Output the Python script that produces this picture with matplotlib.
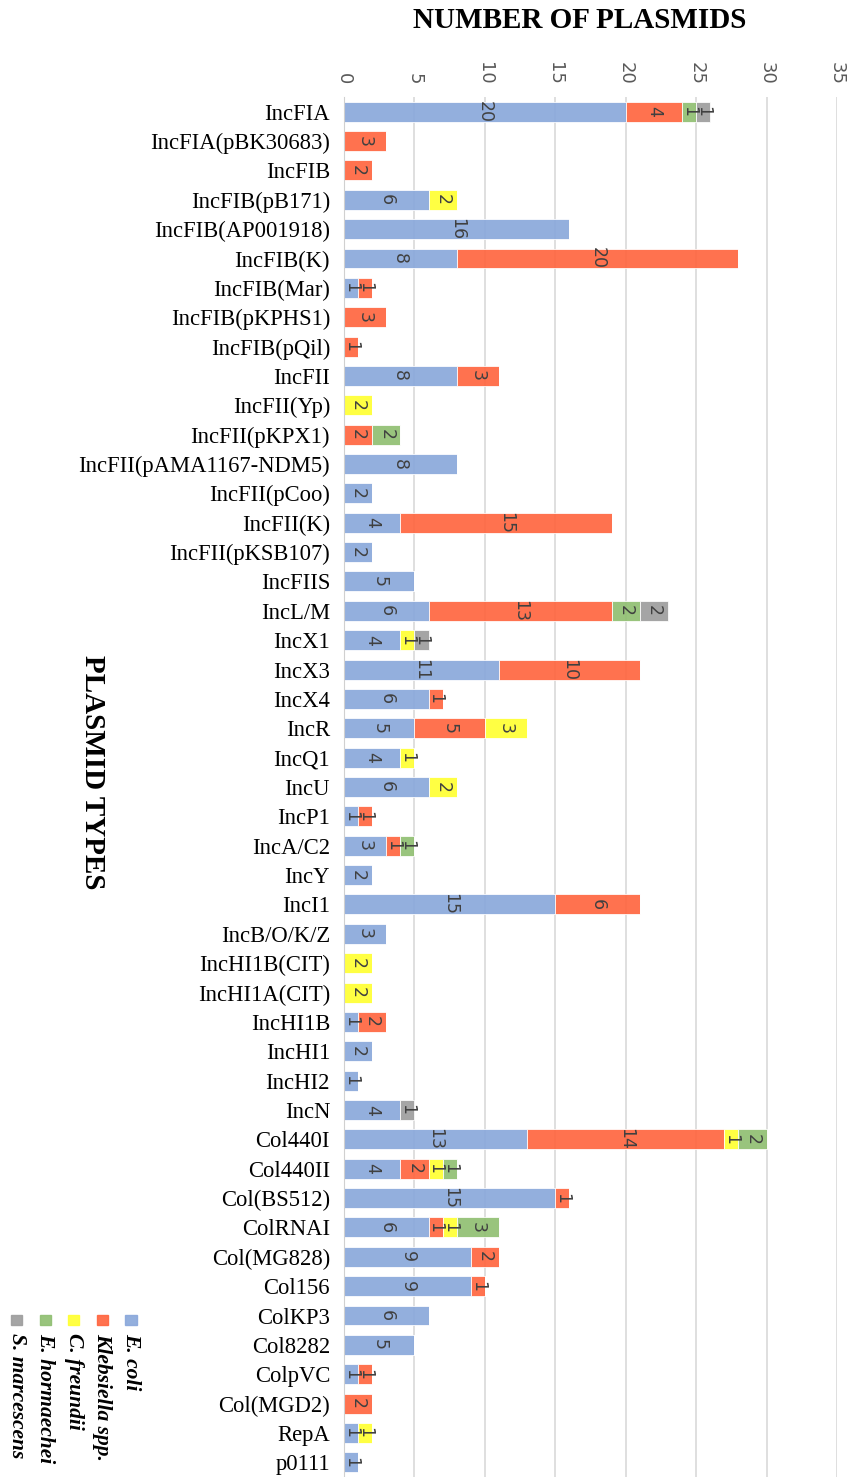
import matplotlib.pyplot as plt
import numpy as np
from matplotlib.patches import Rectangle

plasmidos = ['IncFIA', 'IncFIA(pBK30683)', 'IncFIB', 'IncFIB(pB171)', 'IncFIB(AP001918)',
             'IncFIB(K)', 'IncFIB(Mar)', 'IncFIB(pKPHS1)', 'IncFIB(pQil)', 'IncFII',
             'IncFII(Yp)', 'IncFII(pKPX1)', 'IncFII(pAMA1167-NDM5)', 'IncFII(pCoo)', 'IncFII(K)',
             'IncFII(pKSB107)', 'IncFIIS', 'IncL/M', 'IncX1', 'IncX3',
             'IncX4', 'IncR', 'IncQ1', 'IncU', 'IncP1',
             'IncA/C2', 'IncY', 'IncI1', 'IncB/O/K/Z', 'IncHI1B(CIT)',
             'IncHI1A(CIT)', 'IncHI1B', 'IncHI1', 'IncHI2', 'IncN',
             'Col440I', 'Col440II', 'Col(BS512)', 'ColRNAI', 'Col(MG828)',
             'Col156', 'ColKP3', 'Col8282', 'ColpVC', 'Col(MGD2)',
             'RepA', 'p0111']

e_coli = [20, 0, 0, 6, 16, 8, 1, 0, 0, 8,
          0, 0, 8, 2, 4, 2, 5, 6, 4, 11,
          6, 5, 4, 6, 1, 3, 2, 15, 3, 0,
          0, 1, 2, 1, 4, 13, 4, 15, 6, 9,
          9, 6, 5, 1, 0, 1, 1]
klebsiella = [4, 3, 2, 0, 0, 20, 1, 3, 1, 3,
              0, 2, 0, 0, 15, 0, 0, 13, 0, 10,
              1, 5, 0, 0, 1, 1, 0, 6, 0, 0,
              0, 2, 0, 0, 0, 14, 2, 1, 1, 2,
              1, 0, 0, 1, 2, 0, 0]
c_freundii = [0, 0, 0, 2, 0, 0, 0, 0, 0, 0,
              2, 0, 0, 0, 0, 0, 0, 0, 1, 0,
              0, 3, 1, 2, 0, 0, 0, 0, 0, 2,
              2, 0, 0, 0, 0, 1, 1, 0, 1, 0,
              0, 0, 0, 0, 0, 1, 0]
e_hormaechei = [1, 0, 0, 0, 0, 0, 0, 0, 0, 0,
                0, 2, 0, 0, 0, 0, 0, 2, 0, 0,
                0, 0, 0, 0, 0, 1, 0, 0, 0, 0,
                0, 0, 0, 0, 0, 2, 1, 0, 3, 0,
                0, 0, 0, 0, 0, 0, 0]
s_marcescens = [1, 0, 0, 0, 0, 0, 0, 0, 0, 0,
                0, 0, 0, 0, 0, 0, 0, 2, 1, 0,
                0, 0, 0, 0, 0, 0, 0, 0, 0, 0,
                0, 0, 0, 0, 1, 0, 0, 0, 0, 0,
                0, 0, 0, 0, 0, 0, 0]

especies = ['E. coli', 'Klebsiella spp.', 'C. freundii', 'E. hormaechei', 'S. marcescens']
series = [e_coli, klebsiella, c_freundii, e_hormaechei, s_marcescens]
colores = ['#8AA8DB', '#FF6640', '#FFFF33', '#90BF72', '#9E9E9E']

fig = plt.figure(figsize=(8.48, 14.77), dpi=100)
ax = fig.add_axes([344 / 848, 0.0, 493 / 848, 1380 / 1477])

y = np.arange(len(plasmidos))
izq = np.zeros(len(plasmidos))
for nombre, vals, col in zip(especies, series, colores):
    vals = np.array(vals)
    barras = ax.barh(y, vals, left=izq, height=0.68, color=col, alpha=0.92,
                     edgecolor='white', linewidth=0.6, label=nombre, zorder=2)
    etiquetas = [str(v) if v > 0 else '' for v in vals]
    ax.bar_label(barras, labels=etiquetas, label_type='center', rotation=-90,
                 fontsize=12.5, color='#404040', zorder=3)
    izq += vals

ax.set_xlim(0, 35)
ax.set_ylim(len(plasmidos) - 0.5, -0.5)
ax.set_xticks(np.arange(0, 36, 5))
ax.xaxis.tick_top()
ax.tick_params(axis='x', length=0, pad=9, labelsize=13, labelcolor='#595959', labelrotation=-90)
ax.set_yticks(y)
ax.set_yticklabels(plasmidos, fontfamily='Liberation Serif', fontsize=16.3)
ax.tick_params(axis='y', length=0, pad=10)
ax.grid(axis='x', color='#D9D9D9', linewidth=1.2, zorder=1)
ax.set_axisbelow(True)
for s in ['top', 'right', 'bottom']:
    ax.spines[s].set_visible(False)
ax.spines['left'].set_color('#D0D0D0')

fig.text(580 / 848, 1 - 20 / 1477, 'NUMBER OF PLASMIDS', ha='center', va='center',
         fontfamily='Liberation Serif', fontweight='bold', fontsize=21)
fig.text(92 / 848, 1 - 772 / 1477, 'PLASMID TYPES', ha='center', va='center', rotation=-90,
         fontfamily='Liberation Serif', fontweight='bold', fontsize=21)

# leyenda vertical abajo a la izquierda
xs = [131, 102, 73.5, 45, 16.5]
for xc, nombre, col in zip(xs, especies, colores):
    fig.patches.append(Rectangle(((xc - 5.5) / 848, 1 - 1325 / 1477), 11 / 848, 10 / 1477,
                                 transform=fig.transFigure, color=col, alpha=0.92))
    fig.text(xc / 848, 1 - 1333 / 1477, nombre, ha='center', va='top', rotation=-90,
             fontfamily='Liberation Serif', fontweight='bold', fontstyle='italic', fontsize=15.5)

fig.savefig('out.png', dpi=100)
